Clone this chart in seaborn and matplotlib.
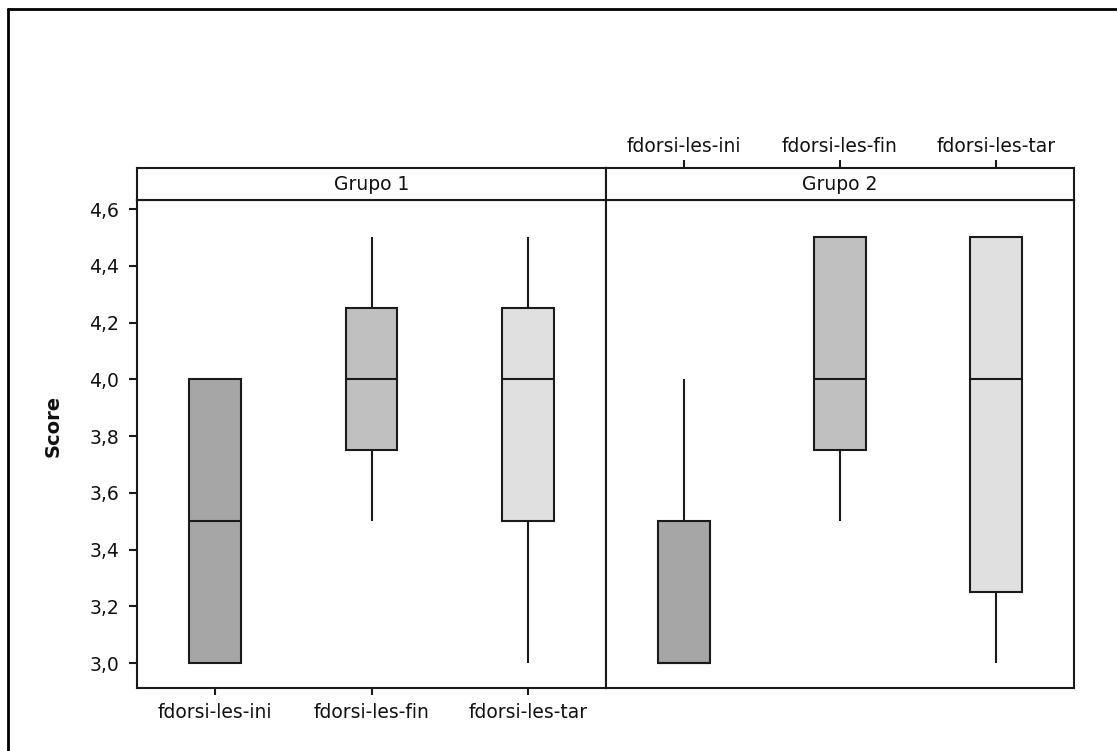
import matplotlib
matplotlib.use("Agg")
import matplotlib.pyplot as plt
from matplotlib.lines import Line2D
from matplotlib.ticker import FuncFormatter
import seaborn as sns
import pandas as pd

sns.set_theme(style="white")
plt.rcParams['font.family'] = ['DejaVu Sans']

groups = ["Grupo 1", "Grupo 2"]
categories = ["fdorsi-les-ini", "fdorsi-les-fin", "fdorsi-les-tar"]
g1_ini = [3.0, 3.0, 3.5, 4.0, 4.0]
g1_fin = [3.5, 3.75, 4.0, 4.25, 4.5]
g1_tar = [3.0, 3.5, 4.0, 4.25, 4.5]
g2_ini = [3.0, 3.0, 3.0, 3.5, 4.0]
g2_fin = [3.5, 3.75, 4.0, 4.5, 4.5]
g2_tar = [3.0, 3.25, 4.0, 4.5, 4.5]
yticks = [3.0, 3.2, 3.4, 3.6, 3.8, 4.0, 4.2, 4.4, 4.6]
colors = ["#a6a6a6", "#c0c0c0", "#e0e0e0"]

rows = []
for g, series in zip(groups, [[g1_ini, g1_fin, g1_tar], [g2_ini, g2_fin, g2_tar]]):
    for cat, vals in zip(categories, series):
        for v in vals:
            rows.append({"group": g, "cat": cat, "Score": v})
df = pd.DataFrame(rows)

W, H = 1117, 751
fig = plt.figure(figsize=(W / 100, H / 100), dpi=100)
fig.patch.set_facecolor("white")

def fx(px):
    return px / W

def fy(py):
    return 1 - py / H

left, mid, right = 137, 606, 1074
ptop, pbot = 200, 688
stop = 168

ax1 = fig.add_axes([fx(left), fy(pbot), fx(mid - left), fy(ptop) - fy(pbot)])
ax2 = fig.add_axes([fx(mid), fy(pbot), fx(right - mid), fy(ptop) - fy(pbot)], sharey=ax1)
s1 = fig.add_axes([fx(left), fy(ptop), fx(mid - left), fy(stop) - fy(ptop)])
s2 = fig.add_axes([fx(mid), fy(ptop), fx(right - mid), fy(stop) - fy(ptop)])

FS = 13.5
edge = "#1a1a1a"
palette = dict(zip(categories, colors))

for ax, g in zip([ax1, ax2], groups):
    sub = df[df.group == g]
    sns.boxplot(data=sub, x="cat", y="Score", hue="cat", order=categories,
                hue_order=categories, palette=palette, legend=False,
                width=0.33, linecolor=edge, linewidth=1.5, showcaps=False,
                fliersize=0, saturation=1, whis=1.5, ax=ax, dodge=False)
    ax.set_xlim(-0.5, 2.5)
    ax.set_ylim(2.912, 4.632)
    ax.set_xlabel("")
    for sp in ax.spines.values():
        sp.set_visible(True)
        sp.set_color(edge)
        sp.set_linewidth(1.5)
    ax.set_facecolor("white")

ax1.set_yticks(yticks)
ax1.yaxis.set_major_formatter(FuncFormatter(lambda v, p: f"{v:.1f}".replace(".", ",")))
ax1.tick_params(axis="y", which="major", left=True, direction="out", length=6,
                width=1.5, color=edge, labelsize=FS, pad=7, labelcolor="#111111")
ax1.tick_params(axis="x", bottom=True, direction="out", length=5, width=1.5,
                color=edge, labelsize=FS, pad=6, labelcolor="#111111")
ax1.set_xticks([0, 1, 2])
ax1.set_xticklabels(categories)
ax1.set_ylabel("Score", fontsize=14, fontweight="bold", color="#111111")
ax1.yaxis.set_label_coords(-0.158, 0.537)

ax2.tick_params(axis="y", left=False, labelleft=False)
ax2.tick_params(axis="x", bottom=False, labelbottom=False)
ax2.set_ylabel("")

for s, g in zip([s1, s2], groups):
    s.set_xlim(-0.5, 2.5)
    s.set_ylim(0, 1)
    s.set_yticks([])
    for sp in s.spines.values():
        sp.set_visible(True)
        sp.set_color(edge)
        sp.set_linewidth(1.5)
    s.text(1, 0.5, g, ha="center", va="center", fontsize=FS, color="#111111")
    s.set_facecolor("white")

s1.set_xticks([])
s2.set_xticks([0, 1, 2])
s2.set_xticklabels(categories)
s2.tick_params(axis="x", top=True, labeltop=True, bottom=False, labelbottom=False,
               direction="out", length=6, width=1.5, color=edge, labelsize=FS,
               pad=3, labelcolor="#111111")

# figure frame (top and left edges)
fig.add_artist(Line2D([fx(8), fx(8)], [0, fy(9)], color="black", lw=2))
fig.add_artist(Line2D([fx(8), 1], [fy(9), fy(9)], color="black", lw=2))

fig.savefig("out.png", dpi=100, facecolor="white")
